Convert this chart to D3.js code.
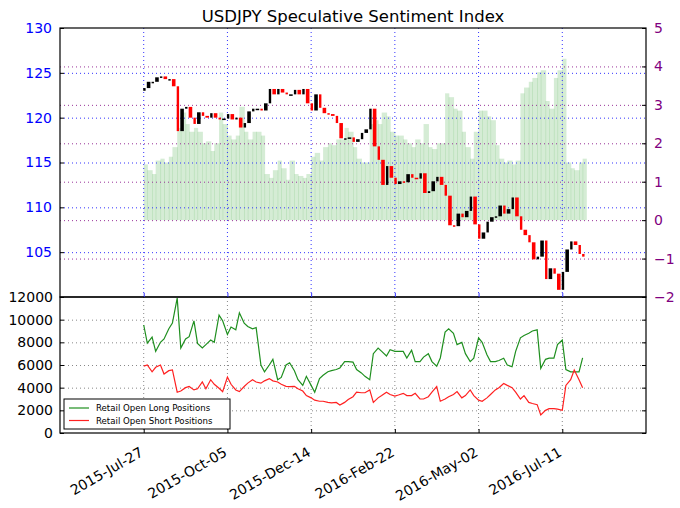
<!DOCTYPE html>
<html><head><meta charset="utf-8">
<script src="https://cdn.jsdelivr.net/npm/d3@7"></script>
<style>body{margin:0;background:#fff;} svg{display:block;font-family:"DejaVu Sans",sans-serif;}</style>
</head><body>
<svg id="c" width="680" height="508"></svg>
<script>
// ---- data (two observations per week: Monday & Thursday, from 2015-07-27) ----
const startDate = "2015-07-27";
const xTickLabels = ["2015-Jul-27","2015-Oct-05","2015-Dec-14","2016-Feb-22","2016-May-02","2016-Jul-11"];
const priceClose = [
123.3,124.0, 124.0,124.5, 124.6,124.3, 124.3,123.5, 118.5,121.0,
121.2,120.0, 119.3,120.6, 120.2,120.0, 120.5,120.0, 119.8,119.9,
120.4,119.8, 120.0,118.9, 119.4,120.7, 121.0,121.0, 120.8,121.6,
123.2,122.6, 123.2,122.8, 122.6,122.6, 123.1,122.6, 123.2,121.6,
120.8,122.6, 121.1,120.5, 120.4,120.2, 119.4,117.7, 117.7,117.8,
117.3,117.6, 118.3,118.7, 121.0,116.8, 115.3,112.5, 114.6,113.3,
112.6,112.9, 112.8,113.7, 113.3,113.2, 113.8,111.6, 111.8,112.9,
113.4,112.5, 111.3,108.0, 107.9,109.3, 108.9,109.6, 111.2,108.1,
106.5,107.2, 108.4,108.9, 109.0,110.2, 109.3,109.8, 111.1,109.0,
107.5,106.9, 106.1,104.2, 104.5,106.3, 102.0,103.2, 102.6,100.8,
102.8,105.3, 106.2,105.8, 104.8,104.5];
const sentiment = [
1.45,1.3, 1.2,1.55, 1.6,1.5, 1.65,1.9, 2.4,2.8,
2.5,2.3, 2.4,2.3, 2.0,2.05, 1.8,2.0, 2.8,2.5,
2.2,2.1, 2.2,2.95, 2.3,2.1, 2.3,2.3, 2.2,1.2,
1.1,1.3, 1.55,1.35, 1.05,1.55, 1.2,1.15, 1.1,1.2,
1.65,1.75, 1.55,1.9, 2.0,1.95, 2.1,2.1, 2.4,2.3,
1.9,1.6, 1.5,1.5, 2.5,2.6, 2.5,2.8, 2.7,2.3,
2.2,2.2, 2.1,2.0, 1.9,2.1, 2.0,2.5, 1.9,1.85,
2.0,2.0, 3.3,3.2, 2.9,2.85, 2.3,1.9, 1.6,2.3,
2.85,2.85, 2.7,2.6, 1.95,1.6, 1.5,1.55, 1.45,1.55,
3.3,3.45, 3.6,3.7, 3.85,3.9, 3.1,2.9, 3.7,3.9,
4.2,1.5, 1.35,1.3, 1.5,1.6];
const longPositions = [
9530,7940, 8470,7200, 8000,8300, 9200,9700, 11900,7500,
8300,8500, 9900,7900, 7500,7800, 8200,8000, 10400,9900,
8700,9350, 9100,10600, 9700,9400, 9200,9300, 6000,5400,
6000,6500, 4700,4900, 6000,6200, 5500,4700, 4200,5000,
4200,3600, 4800,5100, 5400,5500, 5600,5740, 6300,6300,
6250,5600, 5300,5000, 4700,7000, 7500,7200, 6800,7350,
7200,7200, 7200,6620, 7300,6300, 6300,6700, 7000,6300,
5900,6620, 8900,9200, 8800,7800, 8000,7000, 6300,6600,
8400,8000, 6900,6300, 6300,6400, 6600,6000, 5850,7200,
8400,8600, 8800,9000, 9100,5700, 6500,6600, 6600,7800,
8200,5600, 5400,5400, 5400,6620];
const shortPositions = [
5900,6000, 5400,5800, 6000,5200, 5500,5560, 3600,3700,
4000,4100, 3800,3900, 4500,3900, 4700,4300, 3950,3650,
4940,4300, 3800,3650, 4100,4400, 4700,4500, 4400,4600,
4800,4600, 4500,4300, 4120,4100, 4120,3900, 3700,3300,
3100,2900, 2800,2800, 2700,2650, 2700,2470, 2700,2950,
3200,3600, 3550,3550, 3800,2700, 3100,3300, 3600,3400,
3250,3350, 3500,3300, 3300,3500, 3000,3000, 3200,3600,
4100,2800, 3000,3200, 3400,3650, 3100,3300, 3800,3300,
2900,2800, 3100,3400, 3800,4000, 4360,4200, 4000,3600,
3000,3300, 2700,2600, 2500,1600, 2000,2150, 2150,2100,
2000,4200, 4700,5560, 4700,4000];
const priceTicks = [105,110,115,120,125,130];
const sentimentTicks = [-2,-1,0,1,2,3,4,5];
const positionTicks = [0,2000,4000,6000,8000,10000,12000];

// ---- layout ----
const svg = d3.select("#c");
const L = 60, R = 646, T1 = 28, B1 = 297, B2 = 433;
const parse = d3.timeParse("%Y-%m-%d");
const d0 = parse(startDate);
const dates = priceClose.map((_, i) => d3.timeDay.offset(d0, Math.floor(i/2)*7 + (i%2)*3));
const tickDates = xTickLabels.map(s => d3.timeParse("%Y-%b-%d")(s));

const x = d3.scaleTime().domain([parse("2015-05-18"), parse("2016-09-19")]).range([L, R]);
const yP = d3.scaleLinear().domain([100,130]).range([B1, T1]);
const yS = d3.scaleLinear().domain([-2,5]).range([B1, T1]);
const yL = d3.scaleLinear().domain([0,12000]).range([B2, B1]);
const stepW = i => (i < dates.length - 1 ? x(dates[i+1]) - x(dates[i]) : 3.6);

// sentiment bars
svg.append("g").selectAll("rect").data(sentiment).join("rect")
  .attr("x", (d,i) => x(dates[i]))
  .attr("y", d => yS(Math.max(0,d)))
  .attr("width", (d,i) => stepW(i) + 0.6)
  .attr("height", d => Math.abs(yS(d) - yS(0)))
  .attr("fill", "#2ca02c").attr("fill-opacity", 0.2);

// grids top
const gTop = svg.append("g");
gTop.selectAll(".gv").data(tickDates).join("line")
  .attr("x1", d => x(d)).attr("x2", d => x(d)).attr("y1", T1).attr("y2", B1)
  .attr("stroke", "#3333ff").attr("stroke-dasharray", "1,3").attr("stroke-width", 1);
gTop.selectAll(".gp").data(priceTicks.filter(v => v < 130)).join("line")
  .attr("x1", L).attr("x2", R).attr("y1", d => yP(d)+0.5).attr("y2", d => yP(d)+0.5)
  .attr("stroke", "#3333ff").attr("stroke-dasharray", "1,3");
gTop.selectAll(".gs").data(sentimentTicks.filter(v => v > -2 && v < 5)).join("line")
  .attr("x1", L).attr("x2", R).attr("y1", d => yS(d)+0.5).attr("y2", d => yS(d)+0.5)
  .attr("stroke", "#993399").attr("stroke-dasharray", "1,3");

// candles (open = previous close), contiguous bodies
const candles = priceClose.map((c, i) => ({i, d: dates[i], o: i ? priceClose[i-1] : 123.0, c}));
svg.append("g").selectAll("rect").data(candles).join("rect")
  .attr("x", d => x(d.d) - 0.5)
  .attr("y", d => yP(Math.max(d.o, d.c)))
  .attr("width", d => Math.max(1.6, stepW(d.i) - 1.2))
  .attr("height", d => Math.max(1.5, Math.abs(yP(d.o) - yP(d.c))))
  .attr("fill", d => d.c >= d.o ? "#000" : "#ff0000");

// grids bottom
const gBot = svg.append("g");
gBot.selectAll(".bv").data(tickDates).join("line")
  .attr("x1", d => x(d)).attr("x2", d => x(d)).attr("y1", B1).attr("y2", B2)
  .attr("stroke", "#888").attr("stroke-dasharray", "1,3");
gBot.selectAll(".bh").data(positionTicks.filter(v => v > 0 && v < 12000)).join("line")
  .attr("x1", L).attr("x2", R).attr("y1", d => yL(d)+0.5).attr("y2", d => yL(d)+0.5)
  .attr("stroke", "#888").attr("stroke-dasharray", "1,3");

// position lines
const line = d3.line().x((d,i) => x(dates[i])).y(d => yL(d));
svg.append("path").datum(longPositions).attr("d", line)
  .attr("fill", "none").attr("stroke", "#1f8f1f").attr("stroke-width", 1.2);
svg.append("path").datum(shortPositions).attr("d", line)
  .attr("fill", "none").attr("stroke", "#ff2020").attr("stroke-width", 1.2);

// frames
svg.append("rect").attr("x", L).attr("y", T1).attr("width", R-L).attr("height", B1-T1)
  .attr("fill", "none").attr("stroke", "#000").attr("stroke-width", 1.2);
svg.append("rect").attr("x", L).attr("y", B1).attr("width", R-L).attr("height", B2-B1)
  .attr("fill", "none").attr("stroke", "#000").attr("stroke-width", 1.2);

// axes
const axL = svg.append("g").attr("transform", `translate(${L},0)`)
  .call(d3.axisLeft(yP).tickValues(priceTicks).tickSize(-4).tickPadding(8).tickFormat(d3.format("d")));
axL.select(".domain").remove();
axL.selectAll("text").attr("fill", "#0000ff").attr("font-size", 14).attr("font-family", "DejaVu Sans");
axL.selectAll("line").attr("stroke", "#000");

const axR = svg.append("g").attr("transform", `translate(${R},0)`)
  .call(d3.axisRight(yS).tickValues(sentimentTicks).tickSize(-4).tickPadding(8)
    .tickFormat(d => d < 0 ? "\u2212" + Math.abs(d) : d));
axR.select(".domain").remove();
axR.selectAll("text").attr("fill", "#800080").attr("font-size", 14).attr("font-family", "DejaVu Sans");
axR.selectAll("line").attr("stroke", "#000");

const axB = svg.append("g").attr("transform", `translate(${L},0)`)
  .call(d3.axisLeft(yL).tickValues(positionTicks).tickSize(-4).tickPadding(7).tickFormat(d3.format("d")));
axB.select(".domain").remove();
axB.selectAll("text").attr("fill", "#000").attr("font-size", 14).attr("font-family", "DejaVu Sans");

const axBR = svg.append("g").attr("transform", `translate(${R},0)`)
  .call(d3.axisRight(yL).tickValues(positionTicks).tickSize(-4).tickFormat(""));
axBR.select(".domain").remove();

const axX = svg.append("g").attr("transform", `translate(0,${B2})`)
  .call(d3.axisBottom(x).tickValues(tickDates).tickSize(-4).tickFormat((d,i) => xTickLabels[i]));
axX.select(".domain").remove();
axX.selectAll("text").attr("font-size", 14).attr("font-family", "DejaVu Sans").attr("fill", "#000")
  .attr("text-anchor", "end").attr("x", 0).attr("y", 0).attr("dy", "0")
  .attr("transform", "translate(0,22) rotate(-30)");

const axXT = svg.append("g").attr("transform", `translate(0,${B1})`)
  .call(d3.axisBottom(x).tickValues(tickDates).tickSize(-4).tickFormat(""));
axXT.select(".domain").remove();
axXT.selectAll("line").attr("stroke", "#3333ff");

// title
svg.append("text").attr("x", 353).attr("y", 22).attr("text-anchor", "middle")
  .attr("font-size", 16.5).attr("fill", "#000").text("USDJPY Speculative Sentiment Index");

// legend
const lg = svg.append("g").attr("transform", "translate(64,399)");
lg.append("rect").attr("width", 166).attr("height", 30).attr("fill", "#fff").attr("stroke", "#000").attr("stroke-width", 1);
const items = [["Retail Open Long Positions", "#1f8f1f"], ["Retail Open Short Positions", "#ff2020"]];
items.forEach((it, k) => {
  const yy = 9 + k*12.5;
  lg.append("line").attr("x1", 5).attr("x2", 25).attr("y1", yy).attr("y2", yy).attr("stroke", it[1]).attr("stroke-width", 1.2);
  lg.append("text").attr("x", 32).attr("y", yy + 3).attr("font-size", 8.6).attr("fill", "#000").text(it[0]);
});
</script>
</body></html>
